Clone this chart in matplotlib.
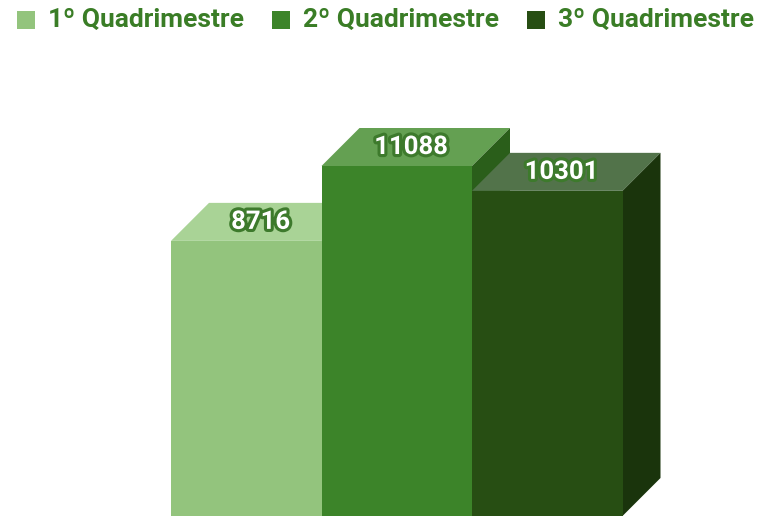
import matplotlib
matplotlib.use("Agg")
import matplotlib.pyplot as plt
from matplotlib.patches import Polygon, Rectangle
import matplotlib.patheffects as pe

categories = ["1º Quadrimestre", "2º Quadrimestre", "3º Quadrimestre"]
values = [8716, 11088, 10301]
front_colors = ["#93c47d", "#3c8429", "#274e13"]
top_colors = ["#a9d396", "#64a052", "#52734a"]
side_colors = ["#6f9e5c", "#2a5e1a", "#1a340c"]

W, H = 761, 516
fig = plt.figure(figsize=(W / 100, H / 100), dpi=100)
ax = fig.add_axes([0, 0, 1, 1])
ax.set_axis_off()

px_per_unit = 150.5
x0 = -0.5 - 171 / px_per_unit
ax.set_xlim(x0, x0 + W / px_per_unit)
v_per_px = 11088 / 350.0
ax.set_ylim(0, H * v_per_px)

dx = 38 / px_per_unit
dy = 38 * v_per_px
width = 1.0

for i, (v, fc, tc, sc) in enumerate(zip(values, front_colors, top_colors, side_colors)):
    l, r = i - width / 2, i + width / 2
    top = Polygon([(l, v), (r, v), (r + dx, v + dy), (l + dx, v + dy)],
                  closed=True, facecolor=tc, edgecolor="none")
    side = Polygon([(r, 0), (r + dx, dy), (r + dx, v + dy), (r, v)],
                   closed=True, facecolor=sc, edgecolor="none")
    front = Rectangle((l, 0), width, v, facecolor=fc, edgecolor="none")
    ax.add_patch(top)
    ax.add_patch(side)
    ax.add_patch(front)
    ax.text(i + dx * 0.38, v + dy / 2, f"{v}", ha="center", va="center",
            fontsize=18.5, fontweight="bold", family="Roboto", color="white",
            path_effects=[pe.Stroke(linewidth=4.5, foreground="#3d7a2c"), pe.Normal()])

# legend
text_color = "#3a7d26"
for i, (c, fc) in enumerate(zip(categories, front_colors)):
    xs = 17 + i * 255
    fig.patches.append(Rectangle((xs / W, 1 - 29 / H), 18 / W, 18 / H,
                                 transform=fig.transFigure, facecolor=fc,
                                 edgecolor="none"))
    fig.text((xs + 31) / W, 1 - 20 / H, c, ha="left", va="center",
             fontsize=19, fontweight="bold", family="Roboto", color=text_color)

fig.savefig("out.png", dpi=100)
